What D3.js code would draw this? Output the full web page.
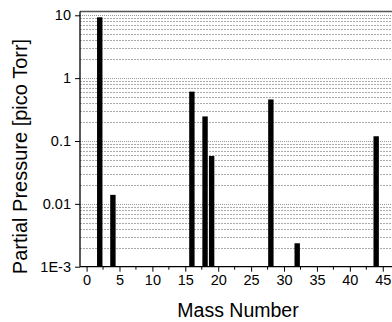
<!DOCTYPE html>
<html><head><meta charset="utf-8">
<script src="https://cdn.jsdelivr.net/npm/d3@7"></script>
<style>body{margin:0;background:#fff}svg{display:block}text{font-family:"Liberation Sans",Arial,sans-serif;fill:#000}</style>
</head><body><svg id="c" width="392" height="322"></svg>
<script>
const masses = [2, 4, 16, 18, 19, 28, 32, 44];
const pressures = [9.3, 0.0139, 0.61, 0.246, 0.0577, 0.458, 0.00236, 0.119];
const xTicks = [0, 5, 10, 15, 20, 25, 30, 35, 40, 45];
const yTicks = [0.001, 0.01, 0.1, 1, 10];
const yTickLabels = ["1E-3", "0.01", "0.1", "1", "10"];

(function () {
const svg = d3.select("#c");
const x = d3.scaleLinear().domain([-1, 48]).range([80, 402.5]);
const y = d3.scaleLog().domain([0.001, 10]).range([266.7, 15.3]);
const plotTop = y(10) - 3.8, plotBottom = y(0.001), plotLeft = x(-1), plotRight = 402;

// grid
const gridVals = [];
for (let n = -3; n <= 0; n++) for (let k = 1; k <= 9; k++) gridVals.push(k * Math.pow(10, n));
gridVals.push(10);
const isDecade = d => Math.abs(Math.log10(d) - Math.round(Math.log10(d))) < 1e-9;
svg.append("g").selectAll("line").data(gridVals.filter(v => v > 0.001)).join("line")
  .attr("x1", plotLeft).attr("x2", plotRight)
  .attr("y1", d => Math.round(y(d)) + 0.5).attr("y2", d => Math.round(y(d)) + 0.5)
  .attr("stroke", d => isDecade(d) ? "#999" : "#aaa")
  .attr("stroke-width", 1)
  .attr("stroke-dasharray", d => isDecade(d) ? "1,1" : "2,1");

// bars
const bw = 0.82 * (x(1) - x(0));
svg.append("g").selectAll("rect").data(masses).join("rect")
  .attr("x", (d) => x(d) - bw / 2)
  .attr("width", bw)
  .attr("y", (d, i) => y(pressures[i]))
  .attr("height", (d, i) => plotBottom - y(pressures[i]))
  .attr("fill", "#000");

// frame
svg.append("line").attr("x1", plotLeft).attr("x2", plotRight).attr("y1", plotTop).attr("y2", plotTop)
  .attr("stroke", "#555").attr("stroke-width", 1.5);

// y axis
const yAxis = d3.axisLeft(y).tickValues(yTicks).tickFormat((d, i) => yTickLabels[i]).tickSize(5).tickPadding(4);
const gy = svg.append("g").attr("transform", `translate(${plotLeft},0)`).call(yAxis);
gy.select(".domain").attr("d", `M0,${plotTop}V${plotBottom}`).attr("stroke", "#000").attr("stroke-width", 1.3);
gy.selectAll("text").style("font-size", "14.5px").style("font-family", "Liberation Sans, Arial, sans-serif").attr("fill", "#000");

// x axis
const xAxis = d3.axisBottom(x).tickValues(xTicks).tickSize(5).tickPadding(3);
const gx = svg.append("g").attr("transform", `translate(0,${plotBottom})`).call(xAxis);
gx.select(".domain").attr("d", `M${plotLeft},0H${plotRight}`).attr("stroke", "#000").attr("stroke-width", 1.3);
gx.selectAll("text").style("font-size", "14.5px").style("font-family", "Liberation Sans, Arial, sans-serif").attr("fill", "#000");
const minor = xTicks.map(t => t + 2.5);
svg.append("g").selectAll("line").data(minor).join("line")
  .attr("x1", d => x(d)).attr("x2", d => x(d)).attr("y1", plotBottom).attr("y2", plotBottom + 3)
  .attr("stroke", "#000");

// titles
svg.append("text").attr("x", 238).attr("y", 316.5).attr("text-anchor", "middle")
  .style("font-size", "19.5px").text("Mass Number");
svg.append("text").attr("transform", "translate(26.5,156.5) rotate(-90)").attr("text-anchor", "middle")
  .style("font-size", "20px").text("Partial Pressure [pico Torr]");
})();
</script></body></html>
